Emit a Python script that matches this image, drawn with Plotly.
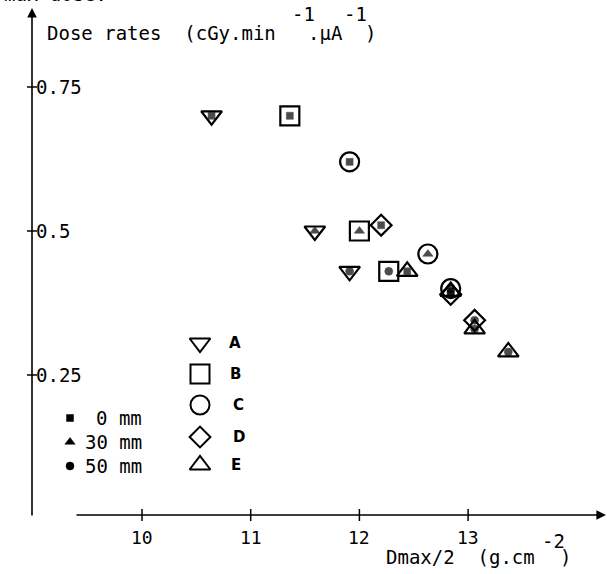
import plotly.graph_objects as go

# Dose rate against Dmax/2 for five beam set-ups (A-E);
# depth: 0, 30 or 50 mm (drawn as the small filled mark inside each symbol)
a_x = [10.64, 11.59, 11.91]
a_y = [0.70, 0.50, 0.43]
a_depth = [0, 30, 50]

b_x = [11.36, 12.00, 12.27]
b_y = [0.70, 0.50, 0.43]
b_depth = [0, 30, 50]

c_x = [11.91, 12.63, 12.84]
c_y = [0.62, 0.46, 0.40]
c_depth = [0, 30, 0]

d_x = [12.20, 12.84, 13.06]
d_y = [0.51, 0.39, 0.345]
d_depth = [0, 0, 50]

e_x = [12.44, 12.84, 13.06, 13.37]
e_y = [0.43, 0.395, 0.33, 0.29]
e_depth = [0, 0, 50, 50]

x_ticks = [10, 11, 12, 13]
y_ticks = [0.25, 0.5, 0.75]
y_tick_text = ["0.25", "0.5", "0.75"]

W, H = 607, 574
FONT = "DejaVu Sans Mono"
INK = "black"

def px(x):
    return x / W

def py(y):
    return 1 - y / H

series = [
    ("A", a_x, a_y, a_depth, "triangle-down-open", 18),
    ("B", b_x, b_y, b_depth, "square-open", 19),
    ("C", c_x, c_y, c_depth, "circle-open", 19),
    ("D", d_x, d_y, d_depth, "diamond-open", 16),
    ("E", e_x, e_y, e_depth, "triangle-up-open", 18),
]
depth_symbol = {0: "square", 30: "triangle-up", 50: "circle"}
depth_size = {0: 7, 30: 9, 50: 8}

fig = go.Figure()

for name, xs, ys, depths, sym, size in series:
    fig.add_trace(go.Scatter(
        x=xs, y=ys, mode="markers", name=name, showlegend=False,
        marker=dict(symbol=sym, size=size, color=INK, line=dict(width=2.2, color=INK)),
    ))
    fig.add_trace(go.Scatter(
        x=xs, y=ys, mode="markers", showlegend=False,
        marker=dict(symbol=[depth_symbol[d] for d in depths],
                    size=[depth_size[d] for d in depths], color=INK,
                    line=dict(width=0.5, color=INK)),
    ))

# Hand-drawn style keys, positioned in page pixels on an overlay axis pair
key_rows_y = [343, 374, 405, 437, 465]
key_sym_x = 200
key_text_x = [235, 235, 238, 239, 236]
for (name, _, _, _, sym, size), ky, tx in zip(series, key_rows_y, key_text_x):
    fig.add_trace(go.Scatter(
        x=[key_sym_x], y=[ky], xaxis="x2", yaxis="y2", mode="markers",
        showlegend=False,
        marker=dict(symbol=sym, size=size, color=INK, line=dict(width=2, color=INK)),
    ))
    fig.add_annotation(x=px(tx), y=py(ky), xref="paper", yref="paper",
                       text="<b>%s</b>" % name, showarrow=False,
                       xanchor="center", yanchor="middle",
                       font=dict(family="DejaVu Sans", size=15, color=INK))

depth_rows = [(0, 418, "0 mm"), (30, 442, "30 mm"), (50, 466, "50 mm")]
for d, ky, label in depth_rows:
    fig.add_trace(go.Scatter(
        x=[70], y=[ky], xaxis="x2", yaxis="y2", mode="markers", showlegend=False,
        marker=dict(symbol=depth_symbol[d], size=depth_size[d], color=INK,
                    line=dict(width=0.5, color=INK)),
    ))
    fig.add_annotation(x=px(144), y=py(ky), xref="paper", yref="paper",
                       text=label, showarrow=False, xanchor="right", yanchor="middle",
                       font=dict(family=FONT, size=19, color=INK))

shapes = []
# x ticks crossing the axis
for t in x_ticks:
    shapes.append(dict(type="line", xref="x", yref="paper", x0=t, x1=t,
                       y0=py(509), y1=py(521), line=dict(color=INK, width=1.5)))
    fig.add_annotation(x=t, y=py(537), xref="x", yref="paper", text=str(t),
                       showarrow=False, xanchor="center", yanchor="middle",
                       font=dict(family=FONT, size=18, color=INK))
# y ticks and labels
for t, lab in zip(y_ticks, y_tick_text):
    shapes.append(dict(type="line", xref="paper", yref="y", x0=px(27), x1=px(37),
                       y0=t, y1=t, line=dict(color=INK, width=1.5)))
    fig.add_annotation(x=px(34), y=t, xref="paper", yref="y", text=lab,
                       showarrow=False, xanchor="left", yanchor="middle",
                       font=dict(family=FONT, size=19, color=INK))

# axis lines with arrowheads
fig.add_annotation(x=px(32), y=py(8), xref="paper", yref="paper", text="",
                   showarrow=True, ax=0, ay=509, arrowhead=2, arrowsize=1.2,
                   arrowwidth=1.6, arrowcolor=INK, standoff=0, startstandoff=0)
fig.add_annotation(x=px(606), y=py(515), xref="paper", yref="paper", text="",
                   showarrow=True, ax=-531, ay=0, arrowhead=2, arrowsize=1.2,
                   arrowwidth=1.6, arrowcolor=INK, standoff=0, startstandoff=0)

def label(text, x, y, anchor="left", size=19):
    fig.add_annotation(x=px(x), y=py(y), xref="paper", yref="paper", text=text,
                       showarrow=False, xanchor=anchor, yanchor="middle",
                       font=dict(family=FONT, size=size, color=INK))

# y axis title with raised exponents
label("max dose.", 2, -6)
label("Dose rates  (cGy.min", 45, 33)
label("-1", 290, 14)
label(".µA", 306, 33)
label("-1", 342, 14)
label(")", 363, 33)

# x axis title
label("Dmax/2  (g.cm", 384, 557)
label("-2", 540, 541)
label(")", 558, 557)

fig.update_layout(
    width=W, height=H,
    margin=dict(l=0, r=0, t=0, b=0),
    paper_bgcolor="white", plot_bgcolor="white",
    shapes=shapes,
    xaxis=dict(range=[8.6937, 14.2778], visible=False, fixedrange=True),
    yaxis=dict(range=[-0.0955, 0.9010], visible=False, fixedrange=True),
    xaxis2=dict(range=[0, W], overlaying="x", visible=False),
    yaxis2=dict(range=[H, 0], overlaying="y", visible=False),
    showlegend=False,
)

fig.write_html("out.html")
